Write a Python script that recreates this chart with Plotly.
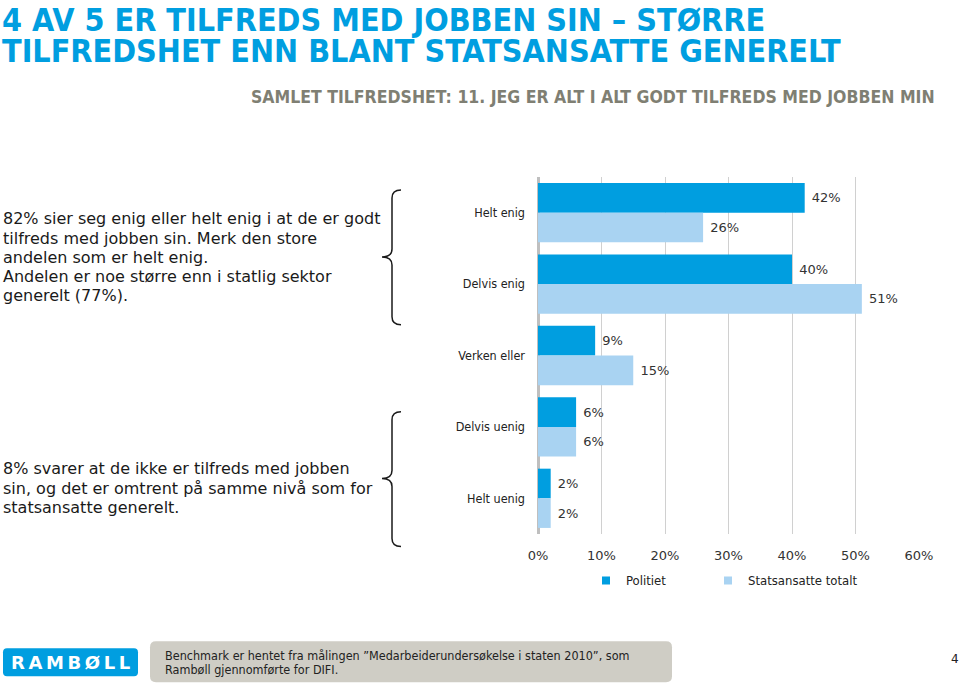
import plotly.graph_objects as go

# ---------------- data ----------------
categories = ["Helt enig", "Delvis enig", "Verken eller", "Delvis uenig", "Helt uenig"]
politiet = [42, 40, 9, 6, 2]
statsansatte = [26, 51, 15, 6, 2]
series_names = ["Politiet", "Statsansatte totalt"]
x_ticks = [0, 10, 20, 30, 40, 50, 60]
x_tick_labels = ["0%", "10%", "20%", "30%", "40%", "50%", "60%"]

title_lines = ["4 AV 5 ER TILFREDS MED JOBBEN SIN – STØRRE",
               "TILFREDSHET ENN BLANT STATSANSATTE GENERELT"]
subtitle = "SAMLET TILFREDSHET: 11. JEG ER ALT I ALT GODT TILFREDS MED JOBBEN MIN"
text_top = ["82% sier seg enig eller helt enig i at de er godt",
            "tilfreds med jobben sin. Merk den store",
            "andelen som er helt enig.",
            "Andelen er noe større enn i statlig sektor",
            "generelt (77%)."]
text_bottom = ["8% svarer at de ikke er tilfreds med jobben",
               "sin, og det er omtrent på samme nivå som for",
               "statsansatte generelt."]
footer_lines = ["Benchmark er hentet fra målingen ”Medarbeiderundersøkelse i staten 2010”, som",
                "Rambøll gjennomførte for DIFI."]
page_number = "4"

# ---------------- style ----------------
BLUE = "#009ee0"
LIGHT = "#a9d3f2"
W, H = 960, 687
L, R, T, B = 538, 919, 177, 534.5


def px(x):
    return (x - L) / (R - L)


def py(y):
    return (B - y) / (B - T)


LABEL_FONT = dict(family="DejaVu Sans", size=13, color="#333333")

fig = go.Figure()
for vals, name, col, leg in [(politiet, series_names[0], BLUE, "legend"),
                             (statsansatte, series_names[1], LIGHT, "legend2")]:
    fig.add_trace(go.Bar(
        y=categories, x=vals, name=name, orientation="h",
        marker=dict(color=col, line=dict(width=0)),
        text=[f"\u00a0{v}%" for v in vals], textposition="outside",
        texttemplate="%{text}", cliponaxis=False, textfont=LABEL_FONT,
        hoverinfo="skip", showlegend=False))
    # legend entry (small square symbol like the reference)
    fig.add_trace(go.Scatter(
        x=[None], y=[None], mode="markers", name=name, legend=leg,
        marker=dict(symbol="square", size=8, color=col), hoverinfo="skip"))

ann = []
# titles
for i, t in enumerate(title_lines):
    ann.append(dict(text=t, x=px(1), y=py(0 + i * 31), xanchor="left", yanchor="top",
                    borderpad=0,
                    font=dict(family="DejaVu Sans Condensed", size=32, color=BLUE, weight="bold")))
ann.append(dict(text=subtitle, x=px(937), y=py(97), xanchor="right", yanchor="middle",
                font=dict(family="DejaVu Sans Condensed", size=17.5, color="#7f7f73", weight="bold")))
# left text blocks
for i, t in enumerate(text_top):
    ann.append(dict(text=t, x=px(1), y=py(219 + i * 19.25), xanchor="left", yanchor="middle",
                    font=dict(family="DejaVu Sans", size=16, color="#1a1a1a")))
for i, t in enumerate(text_bottom):
    ann.append(dict(text=t, x=px(1), y=py(469 + i * 19.5), xanchor="left", yanchor="middle",
                    font=dict(family="DejaVu Sans", size=16, color="#1a1a1a")))
# footer
ann.append(dict(text="R\u2009A\u2009M\u2009B\u2009Ø\u2009L\u2009L", x=px(70), y=py(663),
                xanchor="center", yanchor="middle",
                font=dict(family="DejaVu Sans", size=18, color="white", weight="bold")))
for i, t in enumerate(footer_lines):
    ann.append(dict(text=t, x=px(163), y=py(656 + i * 14.5), xanchor="left", yanchor="middle",
                    font=dict(family="DejaVu Sans Condensed", size=12.5, color="#222222")))
ann.append(dict(text=page_number, x=px(955), y=py(660), xanchor="center", yanchor="middle",
                font=dict(family="DejaVu Sans", size=12, color="#222222")))
for a in ann:
    a.update(xref="paper", yref="paper", showarrow=False)


def brace(xe, xm, xt, yt, ymid, yb, r=8):
    P = lambda x, y: f"{px(x):.5f},{py(y):.5f}"
    return (f"M{P(xe, yt)} Q{P(xm, yt)} {P(xm, yt + r)} L{P(xm, ymid - r)} "
            f"Q{P(xm, ymid)} {P(xt, ymid)} Q{P(xm, ymid)} {P(xm, ymid + r)} "
            f"L{P(xm, yb - r)} Q{P(xm, yb)} {P(xe, yb)}")


def rrect(x0, y0, x1, y1, r):
    P = lambda x, y: f"{px(x):.5f},{py(y):.5f}"
    return (f"M{P(x0 + r, y0)} L{P(x1 - r, y0)} Q{P(x1, y0)} {P(x1, y0 + r)} "
            f"L{P(x1, y1 - r)} Q{P(x1, y1)} {P(x1 - r, y1)} L{P(x0 + r, y1)} "
            f"Q{P(x0, y1)} {P(x0, y1 - r)} L{P(x0, y0 + r)} Q{P(x0, y0)} {P(x0 + r, y0)} Z")


shapes = [
    dict(type="path", path=brace(401, 392, 382, 190, 257, 325), xref="paper", yref="paper",
         line=dict(color="#1a1a1a", width=1.5)),
    dict(type="path", path=brace(401, 392, 382, 412, 479, 547), xref="paper", yref="paper",
         line=dict(color="#1a1a1a", width=1.5)),
    dict(type="path", path=rrect(3, 649, 138, 677, 4), xref="paper", yref="paper",
         fillcolor=BLUE, line=dict(width=0), layer="below"),
    dict(type="path", path=rrect(150, 642, 672, 683, 6), xref="paper", yref="paper",
         fillcolor="#cfcdc5", line=dict(width=0), layer="below"),
]

LEG_FONT = dict(family="DejaVu Sans Condensed", size=13, color="#222222")
fig.update_layout(
    width=W, height=H, autosize=False,
    margin=dict(l=L, r=W - R, t=T, b=H - B, pad=0),
    paper_bgcolor="white", plot_bgcolor="white",
    barmode="group", bargap=0.17, bargroupgap=0,
    showlegend=True,
    legend=dict(orientation="h", x=px(586), y=py(581), xanchor="left", yanchor="middle",
                font=LEG_FONT, bgcolor="rgba(0,0,0,0)"),
    legend2=dict(orientation="h", x=px(708), y=py(581), xanchor="left", yanchor="middle",
                 font=LEG_FONT, bgcolor="rgba(0,0,0,0)"),
    annotations=ann, shapes=shapes,
    xaxis=dict(range=[0, 60], tickvals=x_ticks, ticktext=x_tick_labels,
               showgrid=True, gridcolor="#d0d0d0", gridwidth=1,
               zeroline=True, zerolinecolor="#bfbfbf", zerolinewidth=3,
               showline=False, ticks="", ticklabelstandoff=12,
               tickfont=dict(family="DejaVu Sans", size=13, color="#333333"),
               fixedrange=True),
    yaxis=dict(autorange="reversed", showgrid=False, zeroline=False, showline=False,
               ticks="", ticklabelstandoff=12,
               tickfont=dict(family="DejaVu Sans Condensed", size=12.5, color="#222222"),
               fixedrange=True),
)

fig.write_html("out.html", config={"displayModeBar": False},
               post_script="document.body.style.margin='0';")
